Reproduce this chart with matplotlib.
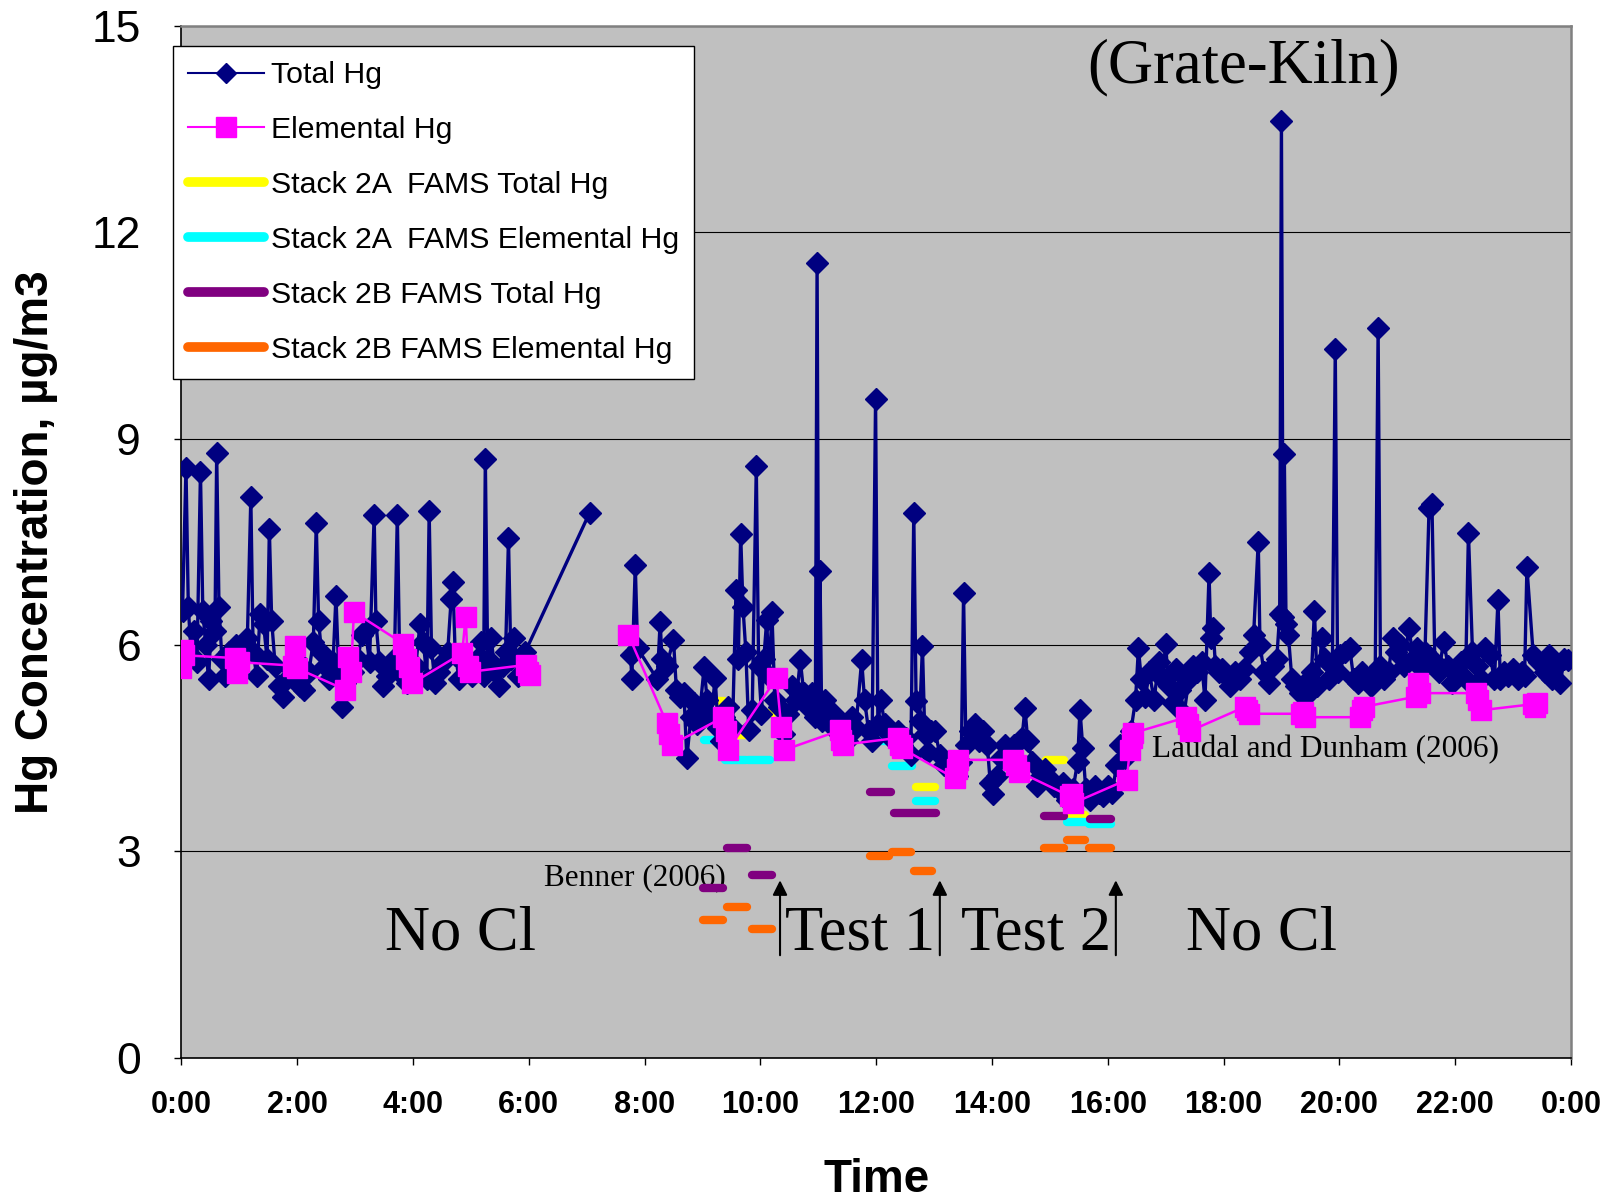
import matplotlib
matplotlib.use('Agg')
import matplotlib.pyplot as plt
from matplotlib.lines import Line2D

plt.rcParams['font.family'] = ['Liberation Sans', 'DejaVu Sans']

# Total Hg, (hour of day, ug/m3); three runs with gaps between them
total_night = [(0.02, 6.50), (0.08, 8.57), (0.12, 6.55), (0.17, 5.85), (0.22, 6.20), (0.27, 5.75),
               (0.33, 8.52), (0.37, 6.50), (0.42, 6.00), (0.47, 5.50), (0.52, 6.35), (0.58, 6.20),
               (0.61, 8.79), (0.65, 6.55), (0.70, 5.80), (0.76, 5.55), (0.82, 5.90), (0.88, 5.70),
               (0.95, 6.00), (1.02, 5.80), (1.08, 6.05), (1.14, 6.10), (1.20, 8.15), (1.24, 5.90),
               (1.30, 5.55), (1.36, 6.45), (1.42, 6.30), (1.48, 5.80), (1.52, 7.68), (1.56, 6.35),
               (1.62, 5.70), (1.68, 5.40), (1.76, 5.24), (1.82, 5.50), (1.90, 5.65), (1.98, 5.80),
               (2.05, 5.40), (2.12, 5.35), (2.20, 5.60), (2.28, 6.05), (2.33, 7.77), (2.37, 6.35),
               (2.42, 5.90), (2.48, 5.70), (2.55, 5.50), (2.62, 5.75), (2.67, 6.71), (2.72, 5.55),
               (2.77, 5.10), (2.83, 5.45), (2.90, 5.70), (2.97, 5.60), (3.05, 5.80), (3.12, 6.15),
               (3.18, 6.20), (3.25, 5.75), (3.33, 7.89), (3.36, 6.35), (3.42, 5.75), (3.48, 5.40),
               (3.55, 5.55), (3.62, 5.65), (3.68, 5.80), (3.73, 7.89), (3.77, 5.80), (3.82, 5.55),
               (3.90, 5.45), (3.97, 5.65), (4.05, 5.70), (4.12, 6.30), (4.18, 6.05), (4.24, 5.50),
               (4.28, 7.94), (4.32, 5.95), (4.38, 5.45), (4.45, 5.60), (4.52, 5.75), (4.60, 5.90),
               (4.66, 6.67), (4.69, 6.92), (4.73, 5.85), (4.80, 5.50), (4.88, 5.75), (4.95, 5.60),
               (5.02, 5.55), (5.10, 5.80), (5.17, 6.05), (5.22, 5.55), (5.25, 8.70), (5.29, 5.80),
               (5.35, 6.10), (5.42, 5.60), (5.48, 5.40), (5.55, 5.70), (5.60, 5.90), (5.65, 7.55),
               (5.69, 5.80), (5.75, 6.10), (5.82, 5.55), (5.94, 5.90), (7.05, 7.92)]

total_day = [(7.76, 5.85), (7.78, 5.50), (7.84, 7.16), (7.88, 5.95), (8.22, 5.50), (8.27, 6.34),
             (8.30, 5.80), (8.38, 5.70), (8.50, 6.07), (8.55, 5.35), (8.62, 5.25), (8.68, 5.30),
             (8.73, 4.35), (8.80, 4.95), (8.85, 5.15), (8.90, 4.85), (8.95, 5.00), (9.03, 5.68),
             (9.08, 5.20), (9.15, 4.95), (9.22, 5.52), (9.27, 4.80), (9.32, 4.60), (9.38, 4.95),
             (9.45, 5.10), (9.52, 4.80), (9.58, 6.80), (9.62, 5.80), (9.66, 7.62), (9.70, 6.55),
             (9.75, 5.90), (9.80, 4.76), (9.86, 5.05), (9.93, 8.60), (9.97, 5.70), (10.02, 5.00),
             (10.06, 5.80), (10.11, 6.36), (10.15, 5.55), (10.20, 6.48), (10.25, 5.20), (10.32, 5.10),
             (10.40, 4.70), (10.48, 5.00), (10.55, 5.40), (10.62, 5.20), (10.69, 5.78), (10.75, 5.30),
             (10.82, 5.10), (10.90, 5.30), (10.95, 4.95), (10.98, 11.55), (11.01, 5.00), (11.03, 7.08),
             (11.06, 4.90), (11.12, 5.20), (11.20, 4.85), (11.28, 5.00), (11.35, 4.70), (11.42, 4.85),
             (11.50, 4.60), (11.58, 4.95), (11.65, 4.80), (11.75, 5.78), (11.80, 5.20), (11.87, 4.75),
             (11.93, 4.60), (11.99, 9.58), (12.03, 4.85), (12.08, 5.20), (12.15, 4.85), (12.22, 4.70),
             (12.30, 4.60), (12.38, 4.75), (12.45, 4.55), (12.52, 4.65), (12.60, 4.40), (12.65, 7.92),
             (12.69, 5.18), (12.75, 4.90), (12.80, 5.98), (12.84, 4.70), (12.90, 4.45), (12.95, 4.75),
             (13.02, 4.75), (13.10, 4.40), (13.18, 4.25), (13.25, 4.30), (13.32, 4.15), (13.40, 4.10),
             (13.47, 4.30), (13.51, 6.75), (13.55, 4.55), (13.62, 4.75), (13.70, 4.85), (13.78, 4.60),
             (13.85, 4.75), (13.92, 4.55), (13.97, 4.00), (14.02, 3.84), (14.08, 4.10), (14.15, 4.35),
             (14.22, 4.55), (14.30, 4.40), (14.38, 4.55), (14.45, 4.30), (14.52, 4.65), (14.57, 5.08),
             (14.62, 4.60), (14.70, 4.30), (14.78, 3.95), (14.85, 4.10), (14.92, 4.20), (15.00, 4.05),
             (15.08, 3.95), (15.15, 3.90), (15.22, 4.00), (15.30, 3.75), (15.40, 3.90), (15.48, 4.30),
             (15.52, 5.06), (15.57, 4.50), (15.62, 3.90), (15.70, 3.75), (15.78, 3.95), (15.85, 3.85),
             (15.92, 3.80), (16.00, 3.95), (16.08, 3.85), (16.15, 4.25), (16.22, 4.55), (16.30, 4.35),
             (16.40, 4.75)]

total_evening = [(16.48, 5.20), (16.53, 5.95), (16.58, 5.50), (16.65, 5.25), (16.72, 5.60), (16.80, 5.20),
                 (16.88, 5.75), (16.95, 5.50), (17.00, 6.02), (17.05, 5.40), (17.12, 5.15), (17.18, 5.65),
                 (17.25, 5.35), (17.32, 5.00), (17.40, 5.50), (17.48, 5.70), (17.55, 5.60), (17.62, 5.75),
                 (17.68, 5.20), (17.75, 7.04), (17.78, 6.10), (17.82, 6.25), (17.86, 5.70), (17.92, 5.60),
                 (17.98, 5.65), (18.05, 5.55), (18.12, 5.40), (18.20, 5.60), (18.28, 5.50), (18.35, 5.65),
                 (18.45, 5.90), (18.52, 6.15), (18.60, 7.50), (18.63, 6.00), (18.70, 5.60), (18.78, 5.45),
                 (18.85, 5.70), (18.92, 5.80), (18.97, 6.45), (19.00, 13.61), (19.03, 6.40), (19.05, 8.77),
                 (19.08, 6.30), (19.12, 6.15), (19.18, 5.50), (19.25, 5.40), (19.32, 5.30), (19.40, 5.25),
                 (19.47, 5.50), (19.52, 5.60), (19.57, 6.49), (19.62, 5.40), (19.70, 6.10), (19.75, 5.80),
                 (19.82, 5.50), (19.88, 5.70), (19.93, 10.30), (19.97, 5.60), (20.02, 5.85), (20.10, 5.90),
                 (20.18, 5.95), (20.25, 5.50), (20.32, 5.45), (20.40, 5.60), (20.48, 5.50), (20.55, 5.40),
                 (20.62, 5.60), (20.67, 10.60), (20.71, 5.70), (20.78, 5.50), (20.85, 5.60), (20.92, 6.10),
                 (20.98, 5.90), (21.05, 6.00), (21.12, 5.70), (21.20, 6.25), (21.28, 5.80), (21.35, 5.95),
                 (21.42, 5.65), (21.48, 5.90), (21.55, 7.99), (21.60, 8.05), (21.65, 5.75), (21.72, 5.60),
                 (21.80, 6.05), (21.88, 5.70), (21.95, 5.45), (22.02, 5.65), (22.10, 5.75), (22.18, 5.50),
                 (22.23, 7.63), (22.30, 5.90), (22.38, 5.70), (22.45, 5.50), (22.52, 5.95), (22.60, 5.85),
                 (22.68, 5.50), (22.74, 6.65), (22.78, 5.50), (22.85, 5.60), (22.92, 5.55), (23.00, 5.65),
                 (23.08, 5.50), (23.15, 5.60), (23.20, 5.55), (23.24, 7.13), (23.35, 5.85), (23.45, 5.75),
                 (23.55, 5.60), (23.62, 5.85), (23.68, 5.50), (23.75, 5.70), (23.82, 5.45), (23.88, 5.80),
                 (23.95, 5.78)]

# Elemental Hg, (hour, ug/m3)
elem_night = [(0.00, 5.66), (0.02, 5.93), (0.05, 5.85), (0.92, 5.81), (0.96, 5.59), (1.00, 5.75),
              (1.92, 5.70), (1.96, 5.98), (2.00, 5.66), (2.83, 5.35), (2.88, 5.83), (2.93, 5.60),
              (2.98, 6.48), (3.83, 6.02), (3.88, 5.80), (3.93, 5.68), (3.98, 5.44), (4.85, 5.88),
              (4.91, 6.41), (4.95, 5.70), (4.99, 5.61), (5.95, 5.71), (5.98, 5.60), (6.02, 5.56)]

elem_day = [(7.72, 6.15), (8.38, 4.87), (8.43, 4.70), (8.47, 4.55), (9.36, 4.95), (9.40, 4.75),
            (9.44, 4.47), (10.28, 5.52), (10.36, 4.81), (10.40, 4.47), (11.38, 4.76), (11.40, 4.62),
            (11.43, 4.55), (12.38, 4.65), (12.41, 4.55), (12.44, 4.50), (13.36, 4.06), (13.40, 4.20),
            (13.42, 4.33), (14.37, 4.33), (14.42, 4.25), (14.46, 4.16), (15.35, 3.80), (15.38, 3.84),
            (15.40, 3.70), (16.33, 4.04), (16.38, 4.47), (16.42, 4.65), (16.44, 4.72), (17.36, 4.95),
            (17.39, 4.85), (17.42, 4.75), (18.37, 5.10), (18.40, 5.05), (18.44, 5.00), (19.33, 5.00),
            (19.37, 5.03), (19.40, 4.95), (20.35, 4.95), (20.39, 5.05), (20.42, 5.10), (21.33, 5.25),
            (21.36, 5.44), (21.40, 5.30), (22.36, 5.30), (22.40, 5.20), (22.44, 5.05), (23.35, 5.14),
            (23.38, 5.10), (23.42, 5.15)]

# FAMS sorbent trap averages: (start hour, end hour, ug/m3)
s2a_total = [(9.08, 9.38, 5.19), (9.50, 9.75, 4.69), (9.97, 10.21, 5.01), (11.90, 12.22, 4.83),
             (12.68, 13.02, 3.94), (14.93, 15.25, 4.33), (15.33, 15.60, 3.53)]
s2a_elem = [(9.03, 9.23, 4.62), (9.39, 9.75, 4.33), (9.79, 10.17, 4.33), (11.90, 12.22, 4.60),
            (12.28, 12.62, 4.24), (12.68, 13.02, 3.73), (15.30, 15.61, 3.43), (15.68, 16.05, 3.40)]
s2b_total = [(9.01, 9.35, 2.47), (9.43, 9.77, 3.05), (9.85, 10.20, 2.66), (11.90, 12.25, 3.86),
             (12.31, 13.03, 3.56), (14.90, 15.24, 3.52), (15.69, 16.05, 3.47)]
s2b_elem = [(9.01, 9.35, 2.00), (9.43, 9.77, 2.19), (9.85, 10.20, 1.87), (11.90, 12.22, 2.93),
            (12.28, 12.60, 2.99), (12.66, 12.97, 2.72), (14.90, 15.24, 3.05), (15.30, 15.61, 3.17),
            (15.67, 16.05, 3.05)]

xtick_hours = [0, 2, 4, 6, 8, 10, 12, 14, 16, 18, 20, 22, 24]
xtick_labels = ['0:00', '2:00', '4:00', '6:00', '8:00', '10:00', '12:00', '14:00',
                '16:00', '18:00', '20:00', '22:00', '0:00']
yticks = [0, 3, 6, 9, 12, 15]
test_starts = [10.34, 13.10, 16.14]

navy = '#000080'
pink = '#FF00FF'
serif = ['Liberation Serif', 'DejaVu Serif']

fig = plt.figure(figsize=(16.15, 11.99), dpi=100)
ax = fig.add_axes([0.1123, 0.1178, 0.8604, 0.8607])
ax.set_facecolor('#C0C0C0')

# sorbent trap bars
for segs, col in [(s2a_total, '#FFFF00'), (s2a_elem, '#00FFFF'),
                  (s2b_total, '#800080'), (s2b_elem, '#FF6600')]:
    for a, b, v in segs:
        ax.plot([a, b], [v, v], color=col, lw=6, solid_capstyle='round', zorder=2)

# total Hg runs
for run in [total_night, total_day + total_evening]:
    t = [p[0] for p in run]
    v = [p[1] for p in run]
    ax.plot(t, v, color=navy, lw=2.4, marker='D', ms=11, mec=navy, zorder=3)

# elemental Hg runs
for run in [elem_night, elem_day]:
    t = [p[0] for p in run]
    v = [p[1] for p in run]
    ax.plot(t, v, color=pink, lw=1.8, marker='s', ms=15, mec=pink, zorder=4)

ax.set_xlim(0, 24)
ax.set_ylim(0, 15)
ax.set_xticks(xtick_hours)
ax.set_xticklabels(xtick_labels, fontsize=22, fontweight='bold')
ax.set_yticks(yticks)
ax.tick_params(axis='x', length=5, width=1, pad=18)
ax.tick_params(axis='y', length=5, width=1, pad=24, labelsize=32)
ax.yaxis.grid(True, color='black', lw=0.8)
ax.set_axisbelow(True)

for s in ['left', 'bottom']:
    ax.spines[s].set_color('black')
    ax.spines[s].set_linewidth(1.2)
for s in ['top', 'right']:
    ax.spines[s].set_color('#808080')
    ax.spines[s].set_linewidth(1.8)

ax.set_xlabel('Time', fontsize=33, fontweight='bold')
ax.xaxis.set_label_coords(0.5, -0.118)
ax.xaxis.label.set_va('center')
ax.set_ylabel('Hg Concentration, µg/m3', fontsize=33, fontweight='bold')
ax.yaxis.set_label_coords(-0.1046, 0.5)
ax.yaxis.label.set_va('center')

# annotations
ax.text(18.35, 14.17, '(Grate-Kiln)', fontsize=45, family=serif, ha='center', va='baseline')
ax.text(4.82, 1.57, 'No Cl', fontsize=45, family=serif, ha='center', va='baseline')
ax.text(18.65, 1.57, 'No Cl', fontsize=45, family=serif, ha='center', va='baseline')
ax.text(10.43, 1.57, 'Test 1', fontsize=45, family=serif, ha='left', va='baseline')
ax.text(13.47, 1.57, 'Test 2', fontsize=45, family=serif, ha='left', va='baseline')
ax.text(6.27, 2.62, 'Benner (2006)', fontsize=22.5, family=serif, ha='left', va='center', zorder=1.5)
ax.text(16.76, 4.48, 'Laudal and Dunham (2006)', fontsize=22.5, family=serif, ha='left', va='center')
for x in test_starts:
    ax.annotate('', xy=(x, 2.62), xytext=(x, 1.45),
                arrowprops=dict(arrowstyle='-|>', color='black', lw=1.5, mutation_scale=22))

handles = [
    Line2D([], [], color=navy, lw=1.5, marker='D', ms=10, mec=navy),
    Line2D([], [], color=pink, lw=1.5, marker='s', ms=14, mec=pink),
    Line2D([], [], color='#FFFF00', lw=7, solid_capstyle='round'),
    Line2D([], [], color='#00FFFF', lw=7, solid_capstyle='round'),
    Line2D([], [], color='#800080', lw=7, solid_capstyle='round'),
    Line2D([], [], color='#FF6600', lw=7, solid_capstyle='round'),
]
labels = ['Total Hg', 'Elemental Hg', 'Stack 2A  FAMS Total Hg', 'Stack 2A  FAMS Elemental Hg',
          'Stack 2B FAMS Total Hg', 'Stack 2B FAMS Elemental Hg']
leg = ax.legend(handles, labels, loc='upper left', bbox_to_anchor=(-0.006, 0.9804),
                borderaxespad=0, fontsize=21.8, fancybox=False, edgecolor='black', framealpha=1,
                labelspacing=0.89, borderpad=0.5, handlelength=2.5, handletextpad=0.22)
leg.get_frame().set_linewidth(1.0)
leg.set_zorder(10)

fig.savefig('out.png', dpi=100, facecolor='white')
